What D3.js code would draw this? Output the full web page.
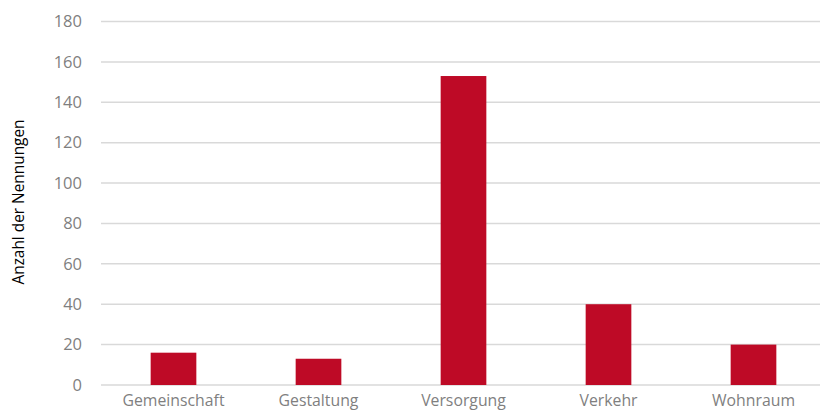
<!DOCTYPE html>
<html><head><meta charset="utf-8">
<script src="https://cdn.jsdelivr.net/npm/d3@7"></script>
<style>body{margin:0;background:#fff}svg{display:block}</style>
</head><body>
<svg id="c" width="820" height="412"></svg>
<script>
const categories = ["Gemeinschaft","Gestaltung","Versorgung","Verkehr","Wohnraum"];
const values = [16, 13, 153, 40, 20];
const yTicks = [0,20,40,60,80,100,120,140,160,180];
const yTitle = "Anzahl der Nennungen";

(function(){
const svg = d3.select("#c");
const mLeft = 101, mRight = 826, mTop = 21.5, mBottom = 385;
const x = d3.scaleBand().domain(categories).range([mLeft, mRight]).paddingInner(0.685).paddingOuter(0.3425);
const y = d3.scaleLinear().domain([0,180]).range([mBottom, mTop]);

const grid = svg.append("g");
grid.selectAll("line").data(yTicks).join("line")
  .attr("x1", mLeft).attr("x2", 820)
  .attr("y1", d=>y(d)).attr("y2", d=>y(d))
  .attr("stroke", "#d9d9d9").attr("stroke-width", 1.5);

svg.append("g").selectAll("rect").data(values).join("rect")
  .attr("x", (d,i)=>x(categories[i]))
  .attr("width", x.bandwidth())
  .attr("y", d=>y(d))
  .attr("height", d=>mBottom - y(d))
  .attr("fill", "#be0a26");

const yAxis = d3.axisLeft(y).tickValues(yTicks).tickSize(0).tickPadding(0);
const ya = svg.append("g").attr("transform", `translate(82,0)`).call(yAxis);
ya.select(".domain").remove();
ya.selectAll("text").attr("font-family","Open Sans, sans-serif").attr("font-size", 16.5).attr("fill","#7f7f7f");

const xAxis = d3.axisBottom(x).tickSize(0).tickPadding(0);
const xa = svg.append("g").attr("transform", `translate(0,${mBottom+10})`).call(xAxis);
xa.select(".domain").remove();
xa.selectAll("text").attr("font-family","Open Sans, sans-serif").attr("font-size", 15.8).attr("fill","#7f7f7f").attr("dy","0.71em");

svg.append("text").attr("transform", "translate(24,202) rotate(-90)")
  .attr("text-anchor","middle").attr("font-family","Open Sans, sans-serif").attr("font-size",15.4).attr("fill","#000").text(yTitle);
})();
</script>
</body></html>
